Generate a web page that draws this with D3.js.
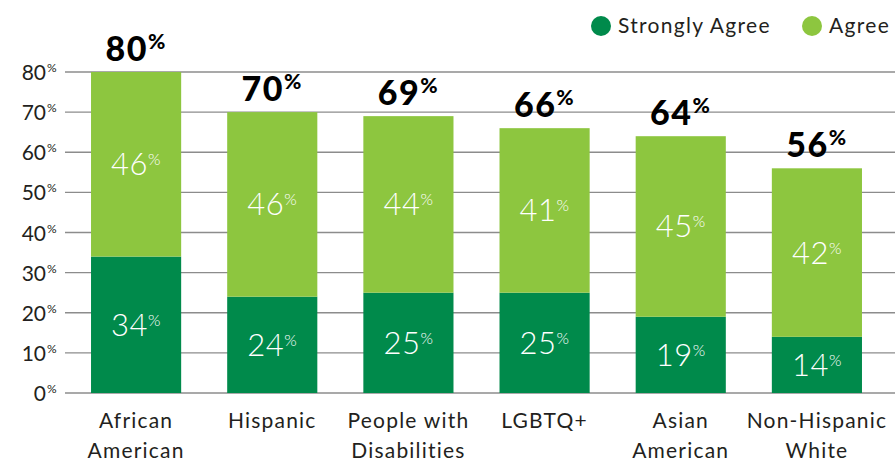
<!DOCTYPE html>
<html>
<head>
<meta charset="utf-8">
<script src="https://cdn.jsdelivr.net/npm/d3@7"></script>
<style>
  html, body { margin: 0; padding: 0; background: #fff; }
  svg { display: block; font-family: Lato, "Open Sans", sans-serif; }
</style>
</head>
<body>
<svg id="chart" width="895" height="462"></svg>
<script>
// Survey groups, two-line category labels, and stacked shares (percent)
const categories = ["African American", "Hispanic", "People with Disabilities", "LGBTQ+", "Asian American", "Non-Hispanic White"];
const categoryLines = [["African", "American"], ["Hispanic"], ["People with", "Disabilities"], ["LGBTQ+"], ["Asian", "American"], ["Non-Hispanic", "White"]];
const stronglyAgree = [34, 24, 25, 25, 19, 14];
const agree = [46, 46, 44, 41, 45, 42];
const totals = [80, 70, 69, 66, 64, 56];
const yTicks = [0, 10, 20, 30, 40, 50, 60, 70, 80];
const seriesNames = ["Strongly Agree", "Agree"];

const colors = { strong: "#008a4b", agree: "#8dc63f", text: "#231f20", grid: "#8c8c8c" };

const svg = d3.select("#chart");

const x = d3.scaleBand()
  .domain(categories)
  .range([45, 908])
  .paddingInner(0.338)
  .paddingOuter(0.338);

const y = d3.scaleLinear().domain([0, 80]).range([393, 72]);

// Gridlines
svg.append("g").selectAll("line")
  .data(yTicks).join("line")
  .attr("x1", 65).attr("x2", 895)
  .attr("y1", d => y(d)).attr("y2", d => y(d))
  .attr("stroke", colors.grid).attr("stroke-width", 1.4);

// Y tick labels with raised percent sign
const tickG = svg.append("g").selectAll("g").data(yTicks).join("g");
tickG.append("text")
  .attr("x", 46).attr("y", d => y(d) + 8)
  .attr("text-anchor", "end")
  .attr("font-size", 21).attr("fill", colors.text)
  .text(d => d);
tickG.append("text")
  .attr("x", 47).attr("y", d => y(d))
  .attr("font-size", 12).attr("fill", colors.text)
  .text("%");

// Stacked bars
const rows = categories.map((c, i) => ({ c, i, s: stronglyAgree[i], a: agree[i], t: totals[i] }));

const barG = svg.append("g").selectAll("g").data(rows).join("g");
barG.append("rect")
  .attr("x", d => x(d.c)).attr("width", x.bandwidth())
  .attr("y", d => y(d.s)).attr("height", d => y(0) - y(d.s))
  .attr("fill", colors.strong);
barG.append("rect")
  .attr("x", d => x(d.c)).attr("width", x.bandwidth())
  .attr("y", d => y(d.s + d.a)).attr("height", d => y(d.s) - y(d.s + d.a))
  .attr("fill", colors.agree);

// Segment value labels
function segLabel(sel, valueFn, midFn) {
  const t = sel.append("text")
    .attr("x", d => x(d.c) + x.bandwidth() / 2)
    .attr("y", d => midFn(d) + 11)
    .attr("text-anchor", "middle")
    .attr("fill", "#fff")
    .attr("font-size", 31).attr("font-weight", 300)
    .attr("letter-spacing", 0.5);
  t.append("tspan").text(valueFn);
  t.append("tspan").attr("font-size", 16).attr("dy", -10).text("%");
}
segLabel(barG, d => d.s, d => (y(0) + y(d.s)) / 2);
segLabel(barG, d => d.a, d => (y(d.s) + y(d.s + d.a)) / 2);

// Totals above bars
const tot = barG.append("text")
  .attr("x", d => x(d.c) + x.bandwidth() / 2)
  .attr("y", d => y(d.t) - 11)
  .attr("text-anchor", "middle")
  .attr("fill", "#000")
  .attr("font-size", 34).attr("font-weight", 900)
  .attr("letter-spacing", 1.5);
tot.append("tspan").text(d => d.t);
tot.append("tspan").attr("font-size", 21).attr("dy", -12).text("%");

// Category labels
const catG = svg.append("g").selectAll("text").data(rows).join("text")
  .attr("text-anchor", "middle")
  .attr("font-size", 21).attr("fill", colors.text)
  .attr("letter-spacing", 1.2);
catG.selectAll("tspan")
  .data(d => categoryLines[d.i].map(l => ({ l, cx: x(d.c) + x.bandwidth() / 2 })))
  .join("tspan")
  .attr("x", d => d.cx)
  .attr("y", (d, j) => 428 + j * 30)
  .text(d => d.l);

// Legend
const legend = [
  { name: seriesNames[0], color: colors.strong, cx: 601 },
  { name: seriesNames[1], color: colors.agree, cx: 812 }
];
const lg = svg.append("g").selectAll("g").data(legend).join("g");
lg.append("circle").attr("cx", d => d.cx).attr("cy", 26).attr("r", 10).attr("fill", d => d.color);
lg.append("text")
  .attr("x", d => d.cx + 17).attr("y", 33)
  .attr("font-size", 21).attr("fill", colors.text)
  .attr("letter-spacing", 1.3)
  .text(d => d.name);
</script>
</body>
</html>
